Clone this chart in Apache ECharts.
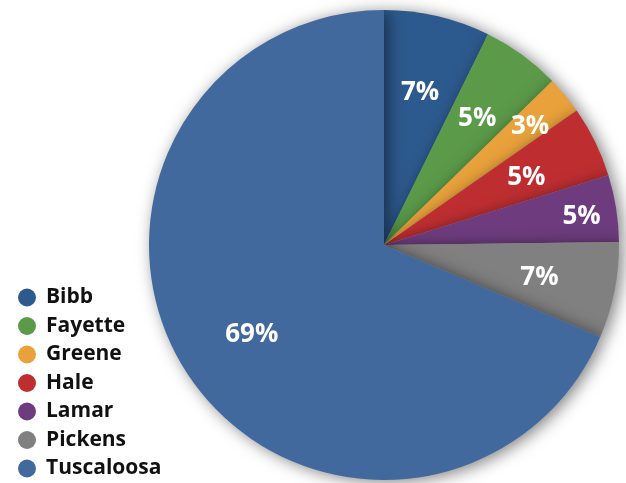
<!DOCTYPE html>
<html>
<head>
<meta charset="utf-8">
<script src="https://cdn.jsdelivr.net/npm/echarts@6/dist/echarts.min.js"></script>
<style>
  html, body { margin: 0; padding: 0; background: #fff; }
  #chart { width: 626px; height: 483px; }
</style>
</head>
<body>
<div id="chart"></div>
<script>
const counties = ['Bibb', 'Fayette', 'Greene', 'Hale', 'Lamar', 'Pickens', 'Tuscaloosa'];
const shares = [7.3, 5.4, 2.6, 4.9, 4.6, 6.6, 68.6];
const colors = ['#2D5A8E', '#5B9A49', '#E9A23B', '#BE2E31', '#6E3C7E', '#7F807F', '#41699D'];

// a few labels sit further out in the reference
const labelOffsets = { Greene: [24, -17], Lamar: [41, -4] };

const total = shares.reduce((a, b) => a + b, 0);
const chart = echarts.init(document.getElementById('chart'));

chart.setOption({
  animation: false,
  color: colors,
  legend: {
    orient: 'vertical',
    left: 13,
    top: 282,
    height: 200,
    icon: 'circle',
    itemWidth: 18,
    itemHeight: 18,
    itemGap: 7.5,
    data: counties,
    textStyle: {
      fontFamily: 'Open Sans',
      fontWeight: 'bold',
      fontSize: 21,
      lineHeight: 20,
      color: '#111',
      padding: [0, 0, 0, 5],
    },
  },
  series: [
    {
      type: 'pie',
      center: [384, 245],
      radius: [0, 235],
      startAngle: 90,
      silent: true,
      label: { show: false },
      labelLine: { show: false },
      itemStyle: {
        shadowBlur: 16,
        shadowOffsetX: 4,
        shadowOffsetY: 2,
        shadowColor: 'rgba(0, 0, 0, 0.5)',
      },
      data: counties.map((name, i) => ({ name, value: shares[i] })),
    },
    {
      // transparent ring only used to place the percent labels
      type: 'pie',
      center: [384, 245],
      radius: [76, 235],
      startAngle: 90,
      silent: true,
      labelLine: { show: false },
      itemStyle: { color: 'rgba(0,0,0,0)' },
      label: {
        show: true,
        position: 'inside',
        color: '#fff',
        fontFamily: 'Open Sans',
        fontWeight: 'bold',
        fontSize: 26,
        offset: [0, 2],
        formatter: p => Math.round(p.value / total * 100) + '%',
      },
      data: counties.map((name, i) => ({
        name,
        value: shares[i],
        label: labelOffsets[name] ? { offset: labelOffsets[name] } : {},
      })),
    },
  ],
});
</script>
</body>
</html>
